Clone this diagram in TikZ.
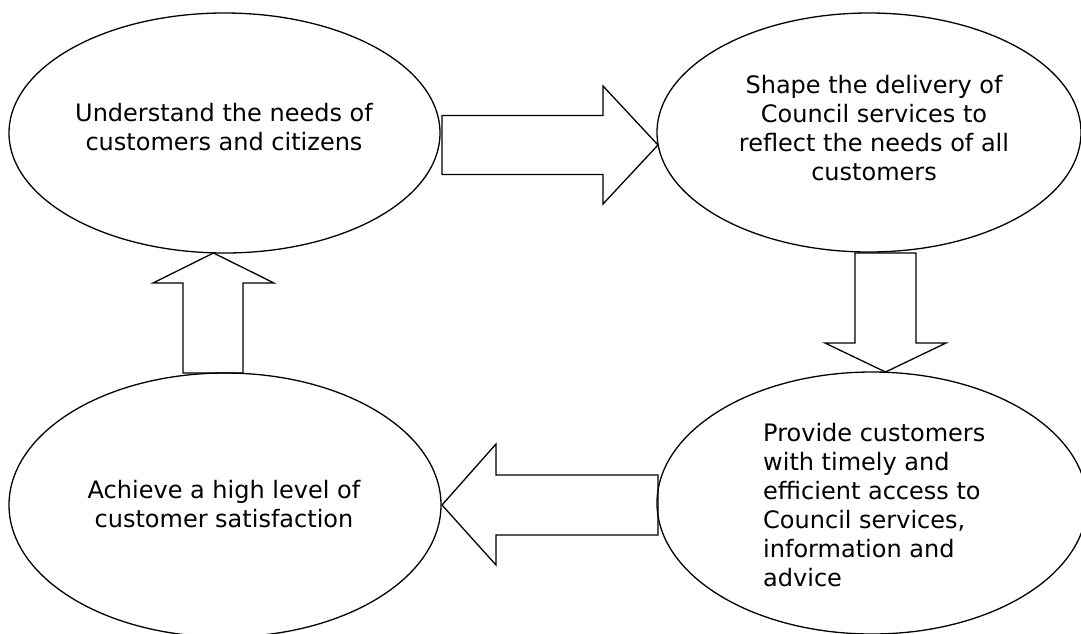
\documentclass[tikz,border=0pt]{standalone}
\usepackage{fontspec}
\setmainfont{DejaVu Sans}
\usetikzlibrary{shapes.geometric}
\begin{document}
\begin{tikzpicture}[x=1pt,y=-1pt,
  ell/.style={draw, ellipse, inner sep=0pt, line width=1.3pt},
  lbl/.style={inner sep=0pt, font=\fontsize{24}{29}\selectfont, align=center},
  blockarrow/.style={draw, line width=1.3pt, line join=miter}]
\useasboundingbox (0,0) rectangle (1081,633);
\clip (0,0) rectangle (1081,633);
% ellipses
\node[ell, minimum width=431pt, minimum height=240pt] (e1) at (224.5,133) {};
\node[ell, minimum width=424pt, minimum height=239pt] (e2) at (869,132.5) {};
\node[ell, minimum width=430pt, minimum height=262pt] (e3) at (872,503) {};
\node[ell, minimum width=432pt, minimum height=264pt] (e4) at (225,505) {};
% texts
\node[lbl] (t1) at (224,127) {Understand the needs of\\customers and citizens};
\node[lbl] (t2) at (874,128) {Shape the delivery of\\Council services to\\reflect the needs of all\\customers};
\node[lbl, align=left, anchor=west] (t3) at (763,505) {Provide customers\\with timely and\\efficient access to\\Council services,\\information and\\advice};
\node[lbl] (t4) at (224,504) {Achieve a high level of\\customer satisfaction};
% block arrows
\coordinate (a1tip) at (658,145);
\coordinate (a2tip) at (885.5,372);
\coordinate (a3tip) at (442,505);
\coordinate (a4tip) at (213.5,253);
\draw[blockarrow] (442,115.5) -- (603,115.5) -- (603,86) -- (a1tip) -- (603,204) -- (603,174.5) -- (442,174.5) -- cycle;
\draw[blockarrow] (855,253) -- (916,253) -- (916,343) -- (946,343) -- (a2tip) -- (825,343) -- (855,343) -- cycle;
\draw[blockarrow] (658,475) -- (496,475) -- (496,444) -- (a3tip) -- (496,565) -- (496,535) -- (658,535) -- cycle;
\draw[blockarrow] (183,373) -- (183,283) -- (153,283) -- (a4tip) -- (274,283) -- (243,283) -- (243,373) -- cycle;
\end{tikzpicture}
\end{document}
